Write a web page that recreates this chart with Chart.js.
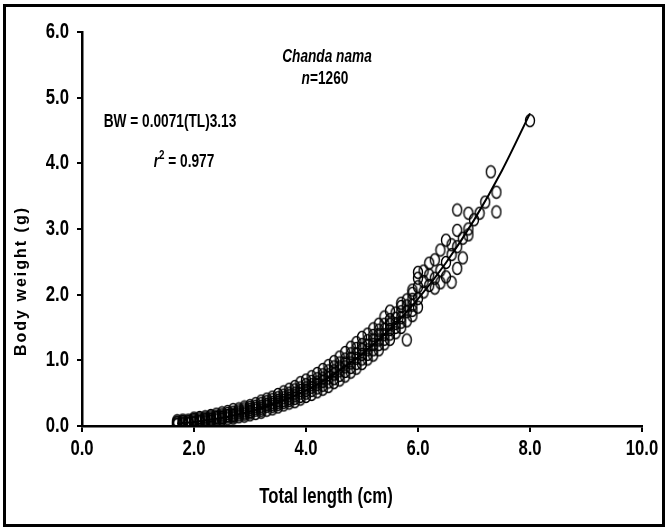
<!DOCTYPE html>
<html><head><meta charset="utf-8">
<script src="https://cdn.jsdelivr.net/npm/chart.js@4/dist/chart.umd.min.js"></script>
<style>
html,body{margin:0;padding:0;background:#fff;}
#wrap{position:relative;width:667px;height:530px;}
#frame{position:absolute;left:3px;top:4px;width:662px;height:523px;border:3px solid #000;box-sizing:border-box;pointer-events:none;}
canvas{position:absolute;left:0;top:0;}
</style></head><body>
<div id="wrap"><canvas id="c" width="667" height="530"></canvas><div id="frame"></div></div>
<script>
// ---- data ----
const sampleLengths = [1.7,1.8,1.9,2.0,2.1,2.2,2.3,2.4,2.5,2.6,2.7,2.8,2.9,3.0,3.1,3.2,3.3,3.4,3.5,3.6,3.7,3.8,3.9,4.0,4.1,4.2,4.3,4.4,4.5,4.6,4.7,4.8,4.9,5.0,5.1,5.2,5.3,5.4,5.5,5.6,5.7,5.8,5.9,6.0,6.1,6.2,6.3,6.4,6.5,6.6,6.7,6.8,6.9,7.0,7.1,7.2,7.3,7.4,8.0];
const sampleWeights = [
  [0.03,0.05,0.06,0.08,0.02],[0.02,0.04,0.06,0.07,0.09],[0.03,0.05,0.07,0.09,0.04],
  [0.04,0.06,0.08,0.10,0.12,0.05],[0.05,0.07,0.09,0.11,0.13],[0.06,0.08,0.10,0.12,0.14],
  [0.07,0.10,0.12,0.14,0.16,0.09],[0.09,0.11,0.13,0.15,0.18],[0.10,0.12,0.15,0.17,0.20,0.13],
  [0.11,0.14,0.16,0.19,0.22],[0.12,0.16,0.18,0.21,0.25,0.14],[0.14,0.17,0.20,0.23,0.26],
  [0.15,0.20,0.23,0.26,0.29,0.18],[0.17,0.22,0.25,0.28,0.31,0.20],[0.19,0.24,0.27,0.30,0.34],
  [0.21,0.27,0.30,0.34,0.38,0.24],[0.24,0.30,0.33,0.37,0.41],[0.26,0.33,0.36,0.40,0.44,0.30],
  [0.29,0.36,0.39,0.43,0.48,0.33],[0.32,0.39,0.43,0.47,0.52,0.36],[0.35,0.42,0.46,0.50,0.56,0.39],
  [0.37,0.46,0.50,0.55,0.60,0.42],[0.41,0.50,0.54,0.58,0.66,0.45],[0.45,0.50,0.54,0.58,0.63,0.70],
  [0.48,0.54,0.59,0.63,0.68,0.75],[0.52,0.58,0.63,0.67,0.72,0.80],[0.56,0.62,0.68,0.73,0.78,0.86],
  [0.60,0.67,0.73,0.78,0.84,0.92],[0.66,0.72,0.79,0.84,0.90,0.98],[0.70,0.77,0.84,0.90,0.96,1.05],
  [0.76,0.83,0.90,0.96,1.02,1.12],[0.82,0.89,0.96,1.03,1.10,1.20],[0.88,0.95,1.03,1.10,1.18,1.27],
  [0.95,1.02,1.09,1.17,1.24,1.35],[1.02,1.09,1.16,1.23,1.30,1.40],[1.08,1.16,1.24,1.31,1.38,1.48],
  [1.16,1.24,1.31,1.39,1.46,1.55],[1.25,1.32,1.39,1.47,1.55,1.66],[1.32,1.40,1.47,1.55,1.62,1.75],
  [1.42,1.50,1.56,1.64,1.72],[1.50,1.58,1.65,1.74,1.82,1.87],[1.31,1.60,1.74,1.83,1.92],
  [1.68,1.76,1.84,1.93,2.02,2.07],[1.94,2.12,2.25,2.34,1.81],
  [2.04,2.20,2.36],[2.14,2.30,2.48],[2.25,2.53,2.10],[2.37,2.68,2.18],
  [2.49,2.83,2.27],[2.61,2.76,2.19],[2.73,2.98,3.29,2.40],[2.86,2.56],
  [3.00,3.24,2.91],[3.14],[3.24],[3.41],[3.87],[3.56,3.26],[4.65]
];
const fitLengths = [1.7,2.0,2.5,3.0,3.5,4.0,4.5,5.0,5.5,6.0,6.5,7.0,7.5,8.0];
const fitWeights = [0.037,0.062,0.125,0.221,0.358,0.544,0.787,1.094,1.474,1.935,2.486,3.135,3.891,4.761];
const xTickValues = [0,2,4,6,8,10];
const yTickValues = [0,1,2,3,4,5,6];
const speciesName = 'Chanda nama';
const sampleSize = '=1260';
const equationText = 'BW = 0.0071(TL)3.13';
const r2Text = ' = 0.977';
const xTitle = 'Total length (cm)';
const yTitle = 'Body weight (g)';

// ---- build ----
const points = [];
sampleLengths.forEach((x, i) => sampleWeights[i].forEach(y => points.push({x, y})));
const fitLine = fitLengths.map((x, i) => ({x, y: fitWeights[i]}));

const FONT = "'Liberation Sans', Arial, sans-serif";
const SX = 0.76; // condensed look

const ring = document.createElement('canvas');
ring.width = 12; ring.height = 15;
(() => {
  const g = ring.getContext('2d');
  g.strokeStyle = '#000'; g.lineWidth = 1.4;
  g.beginPath(); g.ellipse(6, 7.5, 4.5, 6.0, 0, 0, Math.PI * 2); g.stroke();
})();

function cText(ctx, t, x, y, font, align) {
  ctx.save();
  ctx.font = font;
  ctx.textAlign = align || 'center';
  ctx.translate(x, y);
  ctx.scale(SX, 1);
  ctx.fillText(t, 0, 0);
  ctx.restore();
}
function drawRuns(ctx, runs, cx, cy) {
  let total = 0;
  runs.forEach(r => { ctx.font = r.font; r.w = ctx.measureText(r.t).width * SX; total += r.w; });
  let x = cx - total / 2;
  runs.forEach(r => { cText(ctx, r.t, x, cy + (r.dy || 0), r.font, 'left'); x += r.w; });
}

const textPlugin = {
  id: 'texts',
  afterDraw(chart) {
    const ctx = chart.ctx;
    const xs = chart.scales.x, ys = chart.scales.y;
    ctx.save();
    ctx.fillStyle = '#000';
    ctx.textBaseline = 'middle';
    // tick labels
    xTickValues.forEach(v => cText(ctx, v.toFixed(1), xs.getPixelForValue(v), 449, `bold 22px ${FONT}`, 'center'));
    yTickValues.forEach(v => cText(ctx, v.toFixed(1), 69, ys.getPixelForValue(v), `bold 22px ${FONT}`, 'right'));
    // annotations
    cText(ctx, speciesName, 327, 57, `italic bold 18px ${FONT}`);
    drawRuns(ctx, [{t: 'n', font: `italic bold 18px ${FONT}`}, {t: sampleSize, font: `bold 18px ${FONT}`}], 325, 79);
    cText(ctx, equationText, 170, 122, `bold 18px ${FONT}`);
    drawRuns(ctx, [
      {t: 'r', font: `italic bold 18px ${FONT}`},
      {t: '2', font: `bold 13px ${FONT}`, dy: -7},
      {t: r2Text, font: `bold 18px ${FONT}`}
    ], 184, 162);
    cText(ctx, xTitle, 326, 497, `bold 22px ${FONT}`);
    ctx.translate(22, 281);
    ctx.rotate(-Math.PI / 2);
    ctx.textAlign = 'center';
    ctx.font = `bold 16px ${FONT}`;
    try { ctx.letterSpacing = '2px'; } catch (e) {}
    ctx.fillText(yTitle, 0, 0);
    ctx.restore();
  }
};

new Chart(document.getElementById('c'), {
  type: 'scatter',
  data: {
    datasets: [
      {
        label: 'Fit',
        data: fitLine,
        showLine: true,
        borderColor: '#000',
        borderWidth: 2,
        pointRadius: 0,
        cubicInterpolationMode: 'monotone',
        fill: false
      },
      {
        label: 'Observed',
        data: points,
        pointStyle: ring,
        pointRadius: 6,
        borderColor: '#000',
        backgroundColor: 'rgba(0,0,0,0)'
      }
    ]
  },
  options: {
    responsive: false,
    animation: false,
    devicePixelRatio: 1,
    layout: {padding: {top: 32, right: 25, left: 0, bottom: 0}},
    plugins: {legend: {display: false}, tooltip: {enabled: false}},
    scales: {
      x: {
        type: 'linear', min: 0, max: 10,
        afterFit(s) { s.height = 104; },
        border: {display: true, color: '#000', width: 2.5},
        grid: {drawOnChartArea: false, drawTicks: true, tickLength: 6, color: '#000', lineWidth: 2},
        ticks: {stepSize: 2, display: false}
      },
      y: {
        type: 'linear', min: 0, max: 6,
        afterFit(s) { s.width = 82; },
        border: {display: true, color: '#000', width: 2.5},
        grid: {drawOnChartArea: false, drawTicks: true, tickLength: 5, color: '#000', lineWidth: 2},
        ticks: {stepSize: 1, display: false}
      }
    }
  },
  plugins: [textPlugin]
});
</script>
</body></html>
